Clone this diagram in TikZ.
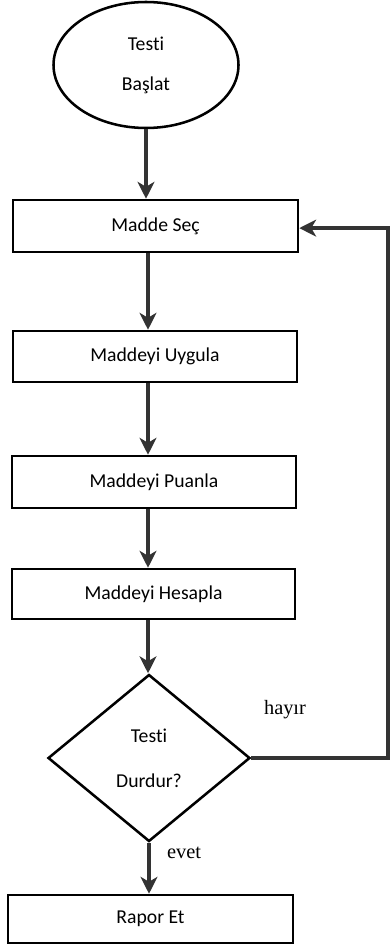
\documentclass[tikz,border=0pt]{standalone}
\usepackage{fontspec}
\setmainfont{Carlito}[Ligatures=NoCommon]
\newfontfamily\labelface{Liberation Serif}
\usetikzlibrary{arrows.meta,shapes.geometric,positioning}
\definecolor{LineGray}{HTML}{333333}
\tikzset{
    block/.style = {draw, rectangle, line width=1.8pt,
        minimum height=1.3cm,
        minimum width=7.125cm,
        font=\fontsize{14}{16}\selectfont},
    terminal/.style = {draw, ellipse, line width=1.8pt, inner sep=0pt,
        minimum width=4.625cm, minimum height=3.15cm,
        align=center, font=\fontsize{14}{28.5}\selectfont},
    decision/.style = {draw, diamond, aspect=1.21, line width=1.8pt, inner sep=0pt,
        minimum width=5.05cm, minimum height=4.175cm,
        align=center, font=\fontsize{14}{32}\selectfont},
    arrow/.style = {draw, line width=2.5pt, color=LineGray, -{Stealth[length=12pt,width=12pt,inset=3.5pt]}},
    edgelabel/.style = {font=\labelface\fontsize{14.5}{16}\selectfont}
}
\begin{document}
\begin{tikzpicture}
    \useasboundingbox (0,0) rectangle (9.775,-23.675);
    % nodes
    \node[terminal] (start) at (3.65,-1.625) {Testi\\Başlat};
    \node[block] (sec) at (3.8875,-5.65) {Madde Seç};
    \node[block, minimum height=1.275cm, minimum width=7.1cm] (uygula) at (3.875,-8.9125) {Maddeyi Uygula};
    \node[block, minimum width=7.1cm] (puanla) at (3.85,-12.05) {Maddeyi Puanla};
    \node[block, minimum height=1.25cm, minimum width=7.075cm] (hesapla) at (3.8375,-14.85) {Maddeyi Hesapla};
    \node[decision] (dur) at (3.725,-18.95) {Testi\\Durdur?};
    \node[block, minimum height=1.2cm] (rapor) at (3.7625,-22.975) {Rapor Et};
    \node[edgelabel] (hayir) at (7.125,-17.75) {hayır};
    \node[edgelabel] (evet) at (4.6,-21.325) {evet};
    \coordinate (back) at (9.7,-18.95);
    % connectors
    \draw[arrow] (start.south) -- (start.south |- sec.north);
    \draw[arrow] (3.7,0 |- sec.south) -- (3.7,0 |- uygula.north);
    \draw[arrow] (3.7,0 |- uygula.south) -- (3.7,0 |- puanla.north);
    \draw[arrow] (3.7,0 |- puanla.south) -- (3.7,0 |- hesapla.north);
    \draw[arrow] (3.7,0 |- hesapla.south) -- (3.7,0 |- dur.north);
    \draw[arrow] (dur.south) -- (dur.south |- rapor.north);
    \draw[arrow] (dur.east) -- (back) |- ([yshift=-1.5pt]sec.east);
\end{tikzpicture}
\end{document}
